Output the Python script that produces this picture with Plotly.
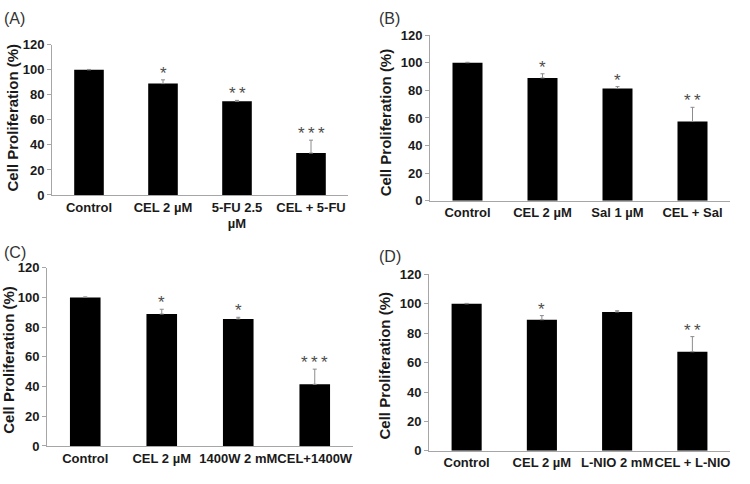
import plotly.graph_objects as go

# ---- data ----
cats_a = ["Control", "CEL 2 µM", "5-FU 2.5<br>µM", "CEL + 5-FU"]
vals_a = [100, 89, 74.8, 33.5]
err_a = [0.3, 3.0, 0.8, 10.3]
sig_a = ["", "*", "**", "***"]

cats_b = ["Control", "CEL 2 µM", "Sal 1 µM", "CEL + Sal"]
vals_b = [100, 89, 81.3, 57.4]
err_b = [0.3, 3.0, 1.4, 10.3]
sig_b = ["", "*", "*", "**"]

cats_c = ["Control", "CEL 2 µM", "1400W 2 mM", "CEL+1400W"]
vals_c = [100, 88.8, 85.5, 41.5]
err_c = [0.3, 3.2, 1.1, 10.2]
sig_c = ["", "*", "*", "***"]

cats_d = ["Control", "CEL 2 µM", "L-NIO 2 mM", "CEL + L-NIO"]
vals_d = [100, 89.2, 94.5, 67.4]
err_d = [0.3, 2.8, 0.8, 10.3]
sig_d = ["", "*", "", "**"]

panel_labels = ["(A)", "(B)", "(C)", "(D)"]
y_title = "Cell Proliferation (%)"
y_ticks = [0, 20, 40, 60, 80, 100, 120]

W, H = 750, 484
FONT = "Liberation Sans, Arial, sans-serif"
AXIS_COL = "#a6a6a6"

# pixel boxes: (x0, x1, ytop, ybottom)
boxes = [(52, 348, 39, 194), (430, 730, 29, 200), (47, 353, 269, 453), (429, 730, 276, 458)]
label_pos = [(2, 1), (377, 1), (2, 242), (377, 247)]
ytitle_pos = [(12, 114), (385, 119), (9, 364), (385, 370)]

panels = [(cats_a, vals_a, err_a, sig_a), (cats_b, vals_b, err_b, sig_b),
          (cats_c, vals_c, err_c, sig_c), (cats_d, vals_d, err_d, sig_d)]

fig = go.Figure()
annotations = []
for i, ((cats, vals, errs, sigs), box) in enumerate(zip(panels, boxes)):
    sfx = "" if i == 0 else str(i + 1)
    xa, ya = "x" + sfx, "y" + sfx
    fig.add_trace(go.Bar(
        x=list(range(len(cats))), y=vals, xaxis=xa, yaxis=ya,
        marker=dict(color="black", line=dict(width=0)),
        error_y=dict(type="data", array=errs, arrayminus=[0] * len(errs), symmetric=False,
                     color="#8c8c8c", thickness=1, width=2),
        showlegend=False, hoverinfo="x+y",
    ))
    x0, x1, yt, yb = box
    fig.layout["xaxis" + sfx] = dict(
        domain=[x0 / W, x1 / W], anchor=ya, range=[-0.5, len(cats) - 0.5],
        tickvals=list(range(len(cats))), ticktext=cats,
        showline=True, linecolor=AXIS_COL, linewidth=1, ticks="", showgrid=False, zeroline=False,
        tickfont=dict(family=FONT, size=13, color="#1a1a1a", weight="bold"), tickangle=0,
        fixedrange=True,
    )
    fig.layout["yaxis" + sfx] = dict(
        domain=[1 - yb / H, 1 - yt / H], anchor=xa, range=[0, 120], tickvals=y_ticks,
        showline=True, linecolor=AXIS_COL, linewidth=1, ticks="outside", ticklen=4,
        tickcolor=AXIS_COL, showgrid=False, zeroline=False,
        tickfont=dict(family=FONT, size=13, color="#1a1a1a", weight="bold"),
        fixedrange=True,
    )
    for j, s in enumerate(sigs):
        if s:
            annotations.append(dict(
                x=j, y=vals[j] + errs[j], xref=xa, yref=ya, text="\u2009".join(s),
                showarrow=False, yanchor="bottom", yshift=-5,
                font=dict(family=FONT, size=17, color="#4d4d4d"),
            ))
    lx, ly = label_pos[i]
    annotations.append(dict(
        x=lx / W, y=1 - ly / H, xref="paper", yref="paper", text=panel_labels[i],
        showarrow=False, xanchor="left", yanchor="top",
        font=dict(family=FONT, size=16, color="#333333"),
    ))
    tx, ty = ytitle_pos[i]
    annotations.append(dict(
        x=tx / W, y=1 - ty / H, xref="paper", yref="paper", text=y_title,
        showarrow=False, xanchor="center", yanchor="middle", textangle=-90,
        font=dict(family=FONT, size=15, color="#1a1a1a", weight="bold"),
    ))

fig.update_layout(
    width=W, height=H, margin=dict(l=0, r=0, t=0, b=0),
    paper_bgcolor="white", plot_bgcolor="white",
    bargap=0.6, annotations=annotations,
)

fig.write_html("out.html", config={"displayModeBar": False},
               post_script="document.body.style.margin='0';")
